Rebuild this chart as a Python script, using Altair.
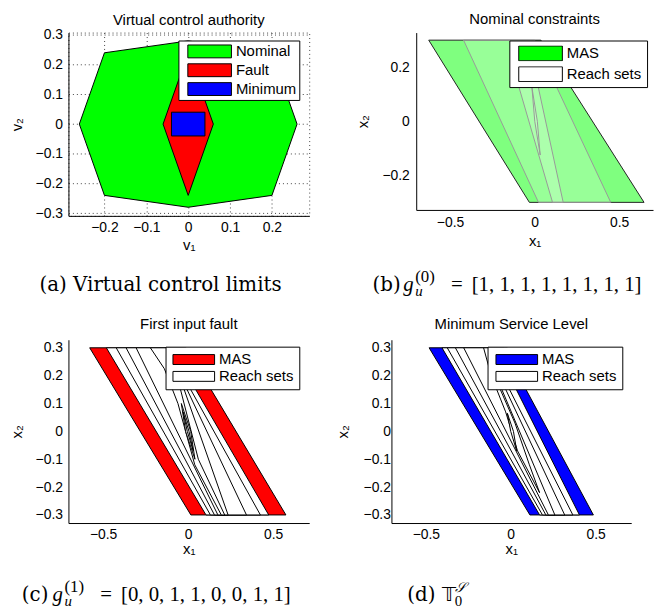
import altair as alt
import pandas as pd

SANS = "Liberation Sans"
SERIF = "Liberation Serif"
SERIF_WIDE = "DejaVu Serif"

# ---------------- panel (a): virtual control limits ----------------
A_NAMES = ["Nominal", "Fault", "Minimum"]
A_COLORS = ["#00ff00", "#ff0000", "#0000ff"]
A_NOMINAL_X = [-0.2, 0.0, 0.2, 0.26, 0.2, 0.0, -0.2, -0.26]
A_NOMINAL_Y = [0.24, 0.28, 0.24, 0.0, -0.24, -0.28, -0.24, 0.0]
A_FAULT_X = [0.0, 0.06, 0.0, -0.06]
A_FAULT_Y = [0.24, 0.0, -0.24, 0.0]
A_MIN_X = [-0.04, 0.04, 0.04, -0.04]
A_MIN_Y = [0.04, 0.04, -0.04, -0.04]
A_XTICKS = [-0.2, -0.1, 0, 0.1, 0.2]
A_YTICKS = [-0.3, -0.2, -0.1, 0, 0.1, 0.2, 0.3]

# ---------------- panels (b)-(d): MAS and reach sets ----------------
SET_NAMES = ["MAS", "Reach sets"]
B_COLORS = ["#00ff00", "#ffffff"]
C_COLORS = ["#ff0000", "#ffffff"]
D_COLORS = ["#0000ff", "#ffffff"]
X_TICKS = [-0.5, 0, 0.5]
B_YTICKS = [-0.2, 0, 0.2]
CD_YTICKS = [-0.3, -0.2, -0.1, 0, 0.1, 0.2, 0.3]

B_MAS_X = [-0.626, 0.037, 0.647, -0.031]
B_MAS_Y = [0.3, 0.3, -0.3, -0.3]
B_REACH_X = [
    [-0.42, 0.0, 0.45, 0.023],
    [-0.127, -0.004, 0.169, 0.106],
    [-0.016, 0.016, 0.033, 0.001],
]
B_REACH_Y = [
    [0.3, 0.3, -0.3, -0.3],
    [0.2, 0.2, -0.3, -0.3],
    [0.126, 0.0, -0.125, 0.0],
]

C_MAS_X = [-0.579, -0.012, 0.575, 0.016]
C_MAS_Y = [0.3, 0.3, -0.3, -0.3]
C_REACH_X = [
    [-0.481, -0.02, 0.035, 0.474, 0.105],
    [-0.423, -0.04, 0.006, 0.425, 0.131],
    [-0.365, -0.06, -0.014, 0.343, 0.155],
    [-0.306, -0.08, -0.029, 0.235, 0.175],
    [-0.222, -0.10, -0.049, 0.06, 0.215, 0.195, 0.039, -0.06, -0.14],
    [-0.04, 0.015, 0.04, -0.015],
    [-0.03, 0.005, 0.03, -0.005],
]
C_REACH_Y = [
    [0.3, 0.3, 0.16, -0.3, -0.3],
    [0.3, 0.3, 0.16, -0.3, -0.3],
    [0.3, 0.3, 0.16, -0.3, -0.3],
    [0.3, 0.3, 0.16, -0.3, -0.3],
    [0.3, 0.3, 0.16, -0.1, -0.3, -0.3, -0.12, 0.1, 0.225],
    [0.1, 0.0, -0.1, 0.0],
    [0.07, 0.0, -0.07, 0.0],
]

D_MAS_X = [-0.481, -0.042, 0.487, 0.113]
D_MAS_Y = [0.3, 0.3, -0.3, -0.3]
D_REACH_X = [
    [-0.405, -0.02, 0.0, 0.405, 0.17],
    [-0.374, -0.04, -0.04, 0.366, 0.187],
    [-0.326, -0.06, -0.06, 0.318, 0.207],
    [-0.277, -0.08, -0.08, 0.26, 0.222],
    [-0.16, -0.10, -0.09, 0.025, 0.11, 0.17, 0.04, -0.03, -0.115],
    [-0.02, 0.016, 0.035, 0.0],
]
D_REACH_Y = [
    [0.3, 0.3, 0.19, -0.3, -0.3],
    [0.3, 0.3, 0.19, -0.3, -0.3],
    [0.3, 0.3, 0.19, -0.3, -0.3],
    [0.3, 0.3, 0.19, -0.3, -0.3],
    [0.3, 0.3, 0.19, 0.03, -0.12, -0.22, -0.07, 0.07, 0.2],
    [0.065, 0.0, -0.07, 0.0],
]

TITLES = ["Virtual control authority", "Nominal constraints",
          "First input fault", "Minimum Service Level"]
CAP_A = "(a) Virtual control limits"
CAP_B = ["(b)", "g", "u", "(0)", "=", "[1, 1, 1, 1, 1, 1, 1, 1]"]
CAP_C = ["(c)", "g", "u", "(1)", "=", "[0, 0, 1, 1, 0, 0, 1, 1]"]
CAP_D = ["(d)", "\U0001D54B", "0", "\U0001D4AE"]


def poly_frame(xs, ys, name):
    px = list(xs) + [xs[0]]
    py = list(ys) + [ys[0]]
    return pd.DataFrame({"x": px, "y": py, "k": list(range(len(px))), "s": name})


def axis(values, title, lp, tp, grid=False):
    return alt.Axis(values=values, title=title, grid=grid, gridDash=[1, 3],
                    gridColor="#444444", gridWidth=1, ticks=False, tickSize=0,
                    labelPadding=lp, titlePadding=tp, format="~g",
                    labelFlush=False, labelOverlap=False)


def legend(lx, ly, half_h, width, pad, so, rp):
    return alt.Legend(
        title=None, orient="none", legendX=lx, legendY=ly,
        symbolType=f"M-1,-{half_h}H1V{half_h}H-1Z", symbolSize=width * width,
        symbolStrokeColor="black", symbolStrokeWidth=1, symbolOffset=so,
        symbolOpacity=1, clipHeight=16,
        labelFont=SANS, labelFontSize=15, labelColor="black", labelOffset=4,
        fillColor="white", strokeColor="black", padding=pad, rowPadding=rp,
        cornerRadius=0,
    )


def text_layer(text, x, y, size, align="left", style="normal", font=SERIF):
    return alt.Chart(pd.DataFrame({"t": [text]})).mark_text(
        align=align, baseline="alphabetic", font=font, fontSize=size,
        fontStyle=style, color="black"
    ).encode(text="t:N", x=alt.value(x), y=alt.value(y))


def math_caption(parts, x0, base):
    # parts: label, italic symbol, subscript, superscript, "=", vector
    return [
        text_layer(parts[0], x0, base, 20, font=SERIF_WIDE),
        text_layer(parts[1], x0 + 31, base, 21, style="italic"),
        text_layer(parts[2], x0 + 43, base + 5, 15, style="italic"),
        text_layer(parts[3], x0 + 43, base - 9, 17),
        text_layer(parts[4], x0 + 79, base, 21),
        text_layer(parts[5], x0 + 100, base, 21),
    ]


def panel(polys, names, colors, xdom, ydom, w, h, xax, yax, leg, title, toff, texts, view):
    layers = []
    for xs, ys, name, mk in polys:
        layers.append(
            alt.Chart(poly_frame(xs, ys, name)).mark_line(**mk).encode(
                x=alt.X("x:Q", scale=alt.Scale(domain=xdom, nice=False, zero=False), axis=xax),
                y=alt.Y("y:Q", scale=alt.Scale(domain=ydom, nice=False, zero=False), axis=yax),
                order=alt.Order("k:Q"),
                fill=alt.Fill("s:N", scale=alt.Scale(domain=names, range=colors), legend=leg),
            )
        )
    layers.extend(texts)
    return alt.layer(*layers).properties(
        width=w, height=h, view=view,
        title=alt.TitleParams(title, font=SANS, fontSize=15, fontWeight="normal",
                              color="black", anchor="middle", frame="group", offset=toff),
    )


solid = dict(stroke="black", strokeWidth=1, fillOpacity=1)
no_view = alt.ViewBackground(stroke="transparent")

# ---- (a)
pa = panel(
    [(A_NOMINAL_X, A_NOMINAL_Y, A_NAMES[0], solid),
     (A_FAULT_X, A_FAULT_Y, A_NAMES[1], solid),
     (A_MIN_X, A_MIN_Y, A_NAMES[2], solid)],
    A_NAMES, A_COLORS, [-0.286, 0.289], [-0.309, 0.308], 243, 185,
    axis(A_XTICKS, "v\u2081", 5, 3, grid=True), axis(A_YTICKS, "v\u2082", 6, 11, grid=True),
    legend(111, 8, 0.295, 44, 3, 6, 3), TITLES[0], 0,
    [text_layer(CAP_A, 93, 261, 20, align="center", font=SERIF_WIDE)],
    alt.ViewBackground(stroke="#444444", strokeDash=[1, 3], strokeWidth=1),
)

# ---- (b)
b_polys = [(B_MAS_X, B_MAS_Y, "MAS", dict(stroke="#222222", strokeWidth=1, fillOpacity=0.5))]
for xs, ys in zip(B_REACH_X, B_REACH_Y):
    b_polys.append((xs, ys, "Reach sets", dict(stroke="#999999", strokeWidth=1, fillOpacity=0.2)))
pb = panel(
    b_polys, SET_NAMES, B_COLORS, [-0.7, 0.7], [-0.328, 0.328], 239, 179,
    axis(X_TICKS, "x\u2081", 6, 4), axis(B_YTICKS, "x\u2082", 7, 12),
    legend(94, 8, 0.34, 44, 5, 4, 5), TITLES[1], 6,
    math_caption(CAP_B, -44, 261),
    no_view,
)

# ---- (c)
c_polys = [(C_MAS_X, C_MAS_Y, "MAS", solid)]
for xs, ys in zip(C_REACH_X, C_REACH_Y):
    c_polys.append((xs, ys, "Reach sets", solid))
pc = panel(
    c_polys, SET_NAMES, C_COLORS, [-0.704, 0.712], [-0.329, 0.329], 243, 185,
    axis(X_TICKS, "x\u2081", 5, 0), axis(CD_YTICKS, "x\u2082", 6, 11),
    legend(98, 7, 0.238, 42, 5, 2, 1), TITLES[2], 8,
    math_caption(CAP_C, -47, 264),
    no_view,
)

# ---- (d)
d_polys = [(D_MAS_X, D_MAS_Y, "MAS", solid)]
for xs, ys in zip(D_REACH_X, D_REACH_Y):
    d_polys.append((xs, ys, "Reach sets", solid))
pd_ = panel(
    d_polys, SET_NAMES, D_COLORS, [-0.703, 0.71], [-0.329, 0.329], 242, 185,
    axis(X_TICKS, "x\u2081", 5, 0), axis(CD_YTICKS, "x\u2082", 1, 13),
    legend(97, 7, 0.238, 42, 5, 3, 1), TITLES[3], 8,
    [text_layer(CAP_D[0], 16, 264, 20, font=SERIF_WIDE),
     text_layer(CAP_D[1], 51, 264, 20, font="DejaVu Sans"),
     text_layer(CAP_D[2], 64, 269, 15),
     text_layer(CAP_D[3], 64, 255, 14, style="italic")],
    no_view,
)

res = dict(x="independent", y="independent", fill="independent")
row1 = alt.hconcat(pa, pb, spacing=108, bounds="flush").resolve_scale(**res)
row2 = alt.hconcat(pc, pd_, spacing=83, bounds="flush").resolve_scale(**res)
chart = alt.vconcat(row1, row2, spacing=16).resolve_scale(**res).properties(
    padding={"left": 0, "top": 0, "right": 0, "bottom": 0}
).configure_view(stroke=None).configure_axis(
    labelFont=SANS, labelFontSize=14, labelColor="black",
    titleFont=SANS, titleFontSize=15, titleFontWeight="normal", titleColor="black",
    domainColor="black", domainWidth=1,
)

chart.save("out.html", embed_options={"renderer": "svg", "actions": False})
